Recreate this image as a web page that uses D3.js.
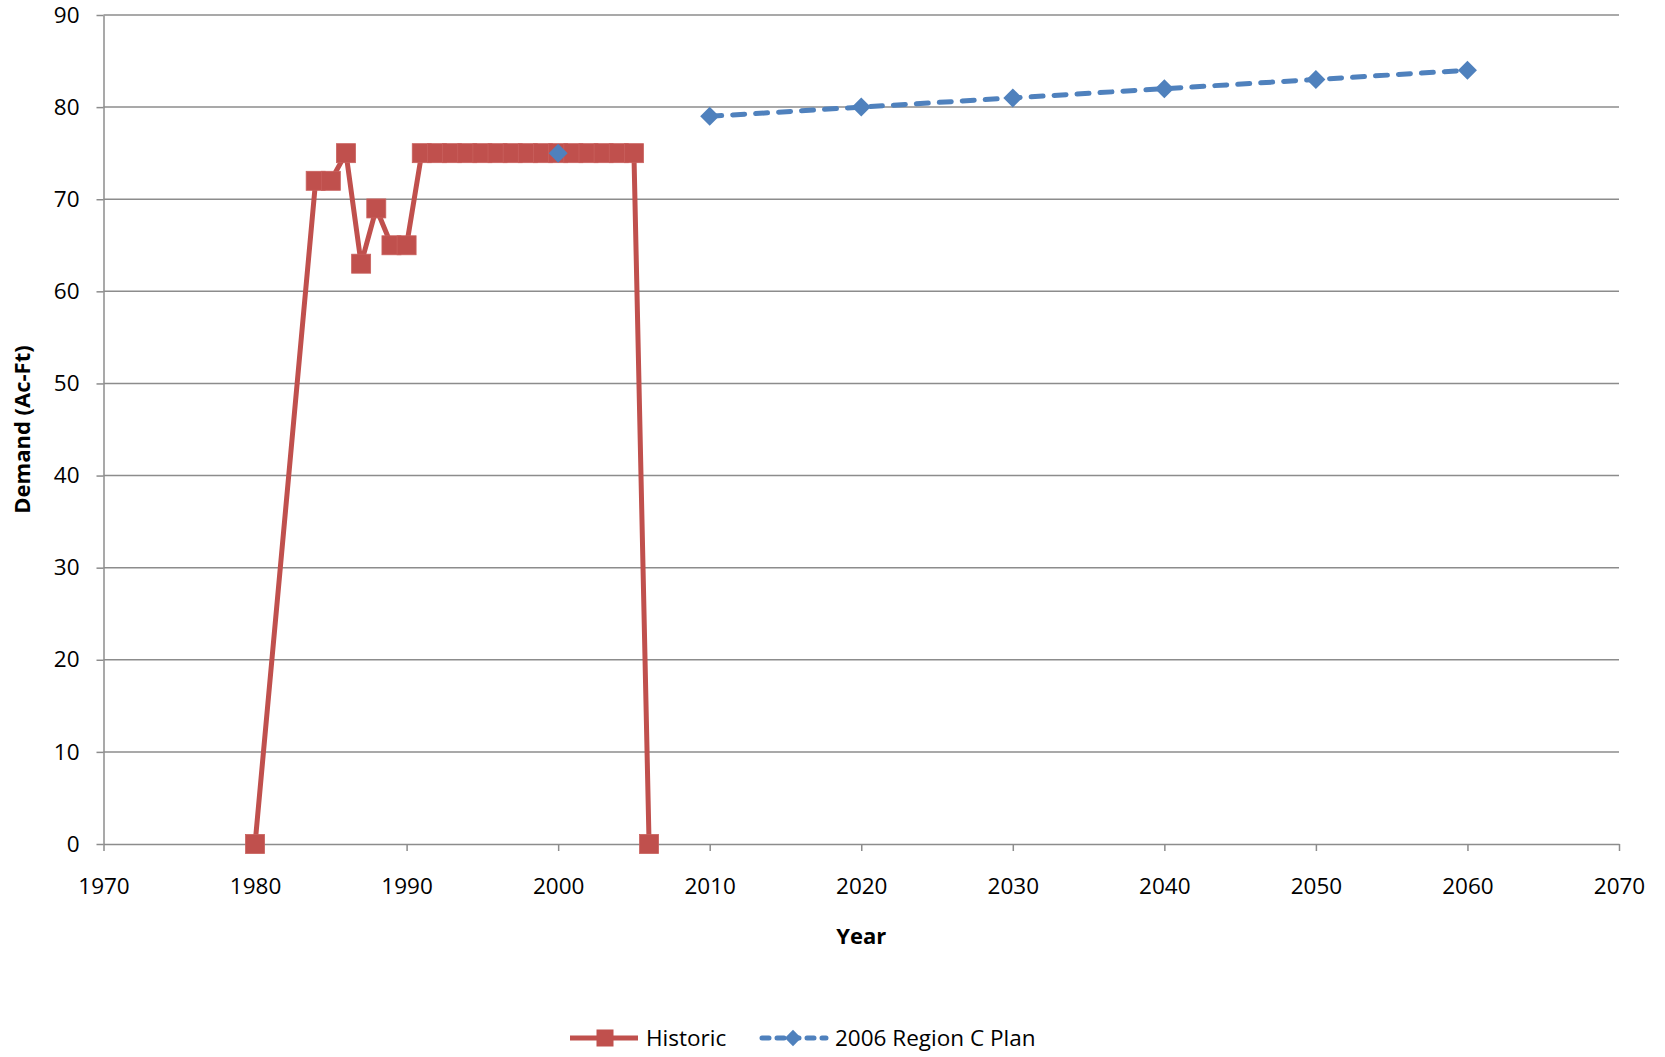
<!DOCTYPE html>
<html>
<head>
<meta charset="utf-8">
<script src="https://cdn.jsdelivr.net/npm/d3@7"></script>
<style>
  html, body { margin: 0; padding: 0; background: #fff; }
  svg { display: block; font-family: "Open Sans", "Liberation Sans", sans-serif; }
</style>
</head>
<body>
<svg id="chart" width="1665" height="1057"></svg>
<script>
// Historic demand (Ac-Ft) by year
const histYears  = [1980, 1984, 1985, 1986, 1987, 1988, 1989, 1990, 1991, 1992, 1993, 1994, 1995, 1996, 1997, 1998, 1999, 2000, 2001, 2002, 2003, 2004, 2005, 2006];
const histValues = [0, 72, 72, 75, 63, 69, 65, 65, 75, 75, 75, 75, 75, 75, 75, 75, 75, 75, 75, 75, 75, 75, 75, 0];

// 2006 Region C Plan projections (null = no value, line breaks there)
const planYears  = [2000, 2005, 2010, 2020, 2030, 2040, 2050, 2060];
const planValues = [75, null, 79, 80, 81, 82, 83, 84];

const xTicks = [1970, 1980, 1990, 2000, 2010, 2020, 2030, 2040, 2050, 2060, 2070];
const yTicks = [0, 10, 20, 30, 40, 50, 60, 70, 80, 90];

const seriesNames = ["Historic", "2006 Region C Plan"];
const RED = "#C0504D", BLUE = "#4F81BD", GRID = "#8c8c8c";

const svg = d3.select("#chart");
const margin = { left: 103.5, right: 46, top: 15, bottom: 213 };
const W = 1665, H = 1057;
const iw = W - margin.left - margin.right;
const ih = H - margin.top - margin.bottom;

const x = d3.scaleLinear().domain([1970, 2070]).range([0, iw]);
const y = d3.scaleLinear().domain([0, 90]).range([ih, 0]);

const g = svg.append("g").attr("transform", `translate(${margin.left},${margin.top})`);

// horizontal gridlines
g.append("g").selectAll("line").data(yTicks.filter(d => d > 0)).join("line")
  .attr("x1", 0).attr("x2", iw)
  .attr("y1", d => y(d)).attr("y2", d => y(d))
  .attr("stroke", GRID).attr("stroke-width", 1.5);

// y axis
const yAxis = g.append("g").call(d3.axisLeft(y).tickValues(yTicks).tickSize(7).tickSizeOuter(0).tickPadding(17));
yAxis.select(".domain").attr("stroke", GRID).attr("stroke-width", 1.5);
yAxis.selectAll(".tick line").attr("stroke", GRID).attr("stroke-width", 1.5);
yAxis.selectAll("text").attr("font-size", 22.5).attr("fill", "#000")
  .attr("font-family", "'Open Sans', sans-serif");

// x axis
const xAxis = g.append("g").attr("transform", `translate(0,${ih})`)
  .call(d3.axisBottom(x).tickValues(xTicks).tickFormat(d3.format("d")).tickSize(7).tickSizeOuter(0).tickPadding(27));
xAxis.select(".domain").attr("stroke", GRID).attr("stroke-width", 1.5);
xAxis.selectAll(".tick line").attr("stroke", GRID).attr("stroke-width", 1.5);
xAxis.selectAll("text").attr("font-size", 22.5).attr("fill", "#000")
  .attr("font-family", "'Open Sans', sans-serif");

// axis titles
svg.append("text")
  .attr("transform", `translate(30,${margin.top + ih / 2}) rotate(-90)`)
  .attr("text-anchor", "middle")
  .attr("font-size", 22).attr("font-weight", "bold").attr("fill", "#000")
  .text("Demand (Ac-Ft)");
svg.append("text")
  .attr("x", margin.left + iw / 2).attr("y", 944)
  .attr("text-anchor", "middle")
  .attr("font-size", 22).attr("font-weight", "bold").attr("fill", "#000")
  .text("Year");

const hist = histYears.map((yr, i) => ({ yr, v: histValues[i] }));
const plan = planYears.map((yr, i) => ({ yr, v: planValues[i] }));

const line = d3.line().defined(d => d.v != null).x(d => x(d.yr)).y(d => y(d.v));

// Historic series
g.append("path").datum(hist).attr("d", line)
  .attr("fill", "none").attr("stroke", RED).attr("stroke-width", 5).attr("stroke-linejoin", "round");
const sq = 19;
g.append("g").selectAll("rect").data(hist).join("rect")
  .attr("x", d => x(d.yr) - sq / 2).attr("y", d => y(d.v) - sq / 2)
  .attr("width", sq).attr("height", sq)
  .attr("fill", RED).attr("stroke", "#c9605d").attr("stroke-width", 0.8);

// Plan series
g.append("path").datum(plan).attr("d", line)
  .attr("fill", "none").attr("stroke", BLUE).attr("stroke-width", 5)
  .attr("stroke-dasharray", "12,11").attr("stroke-linecap", "round");
const diamond = d3.symbol().type(d3.symbolDiamond2).size(230);
g.append("g").selectAll("path").data(plan.filter(d => d.v != null)).join("path")
  .attr("transform", d => `translate(${x(d.yr)},${y(d.v)})`)
  .attr("d", diamond).attr("fill", BLUE);

// legend
const leg = svg.append("g").attr("transform", "translate(0,1038)");
const l1 = leg.append("g");
l1.append("line").attr("x1", 570).attr("x2", 638).attr("stroke", RED).attr("stroke-width", 5);
l1.append("rect").attr("x", 605 - 8.5).attr("y", -8.5).attr("width", 17).attr("height", 17).attr("fill", RED);
l1.append("text").attr("x", 646).attr("y", 8).attr("font-size", 22.5).attr("fill", "#000").text(seriesNames[0]);

const l2 = leg.append("g");
l2.append("line").attr("x1", 762).attr("x2", 826).attr("stroke", BLUE).attr("stroke-width", 5)
  .attr("stroke-dasharray", "7,8").attr("stroke-linecap", "round");
l2.append("path").attr("transform", "translate(793,0)").attr("d", d3.symbol().type(d3.symbolDiamond2).size(170)).attr("fill", BLUE);
l2.append("text").attr("x", 835).attr("y", 8).attr("font-size", 22.5).attr("fill", "#000").text(seriesNames[1]);
</script>
</body>
</html>
